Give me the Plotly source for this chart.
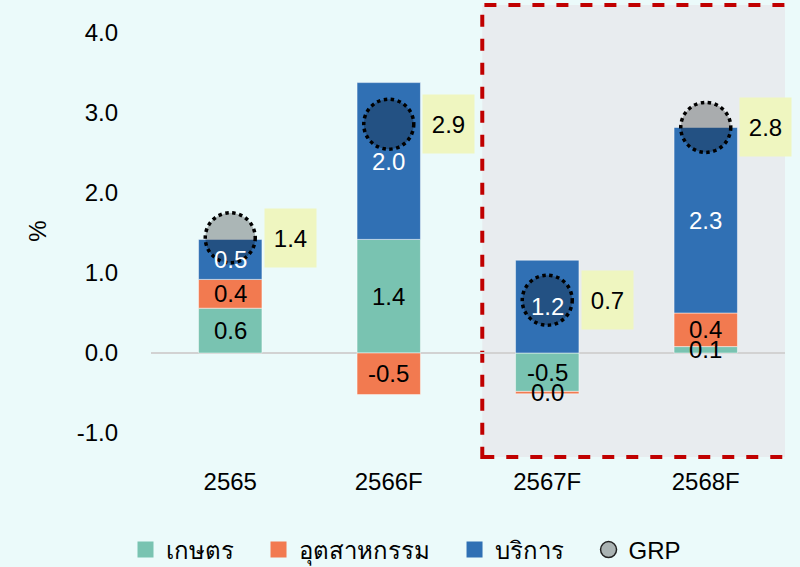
import plotly.graph_objects as go

categories = ["2565", "2566F", "2567F", "2568F"]
agri = [0.56, 1.42, -0.48, 0.08]        # เกษตร
industry = [0.36, -0.52, -0.03, 0.42]   # อุตสาหกรรม
services = [0.50, 1.96, 1.16, 2.32]     # บริการ
grp = [1.44, 2.86, 0.66, 2.82]          # GRP
series_names = ["เกษตร", "อุตสาหกรรม", "บริการ"]
y_ticks = [-1.0, 0.0, 1.0, 2.0, 3.0, 4.0]
highlight = ["2567F", "2568F"]

colors = ["#79c3b1", "#f27a50", "#3070b4"]
label_colors = ["black", "black", "white"]
FONT = "'Liberation Sans', Arial, sans-serif"
BG = "#ebfafa"
PAD = "\u00a0" * 3

def fmt(v):
    s = f"{v:.1f}"
    return "0.0" if s == "-0.0" else s

xs = list(range(len(categories)))

fig = go.Figure()
series = [agri, industry, services]
for name, vals, col in zip(series_names, series, colors):
    fig.add_trace(go.Bar(x=xs, y=vals, name=name, marker_color=col, showlegend=False,
                         marker_line=dict(color="rgba(255,255,255,0.6)", width=0.8),
                         width=0.4, hoverinfo="skip"))

# segment labels at centres of stacked segments (relative stacking)
for i in xs:
    pos, neg = 0.0, 0.0
    for vals, lc in zip(series, label_colors):
        v = vals[i]
        if v >= 0:
            c = pos + v / 2
            pos += v
        else:
            c = neg + v / 2
            neg += v
        fig.add_annotation(x=i, y=c, text=fmt(v), showarrow=False,
                           font=dict(size=24, color=lc, family=FONT))

# GRP markers
fig.add_trace(go.Scatter(x=xs, y=grp, mode="markers", name="GRP",
                         showlegend=False, hoverinfo="skip",
                         marker=dict(size=50, color="rgba(0,0,0,0.27)", line=dict(width=0))))

# legend entries
for name, col in zip(series_names, colors):
    fig.add_trace(go.Scatter(x=[None], y=[None], mode="markers", name=name + PAD,
                             marker=dict(symbol="square", size=16, color=col)))
fig.add_trace(go.Scatter(x=[None], y=[None], mode="markers", name="GRP",
                         marker=dict(size=16, color="#aab3b3",
                                     line=dict(width=1.5, color="#222"))))

for i, g in zip(xs, grp):
    fig.add_shape(type="circle", xref="x", yref="y", xsizemode="pixel", ysizemode="pixel",
                  xanchor=i, yanchor=g, x0=-25, x1=25, y0=-25, y1=25,
                  line=dict(color="black", width=3.5, dash="dot"), layer="above")
    fig.add_annotation(x=i, y=g, xshift=60, text=fmt(g), showarrow=False,
                       bgcolor="#eff6c0", width=47, height=54, borderpad=2,
                       font=dict(size=24, color="black", family=FONT))

# highlighted forecast region
i0 = categories.index(highlight[0])
i1 = categories.index(highlight[-1])
fig.add_shape(type="rect", xref="x", yref="paper", x0=i0 - 0.41, x1=i1 + 0.54,
              y0=0, y1=1, fillcolor="#e8ecef", line=dict(color="#c00000", width=4, dash="dash"),
              layer="below")

fig.update_layout(
    barmode="relative",
    width=800, height=567,
    paper_bgcolor=BG, plot_bgcolor=BG,
    margin=dict(l=151, r=15, t=5, b=110, autoexpand=False),
    font=dict(family=FONT, size=24, color="black"),
    showlegend=True,
    legend=dict(orientation="h", xref="container", yref="container",
                x=0.5075, xanchor="center", y=0.03, yanchor="middle",
                font=dict(size=24), bgcolor="rgba(0,0,0,0)", traceorder="normal",
                itemwidth=30),
    xaxis=dict(range=[-0.5, len(categories) - 0.5], tickvals=xs, ticktext=categories,
               showgrid=False, showline=False, zeroline=False, ticks="",
               ticklabelstandoff=8, tickfont=dict(size=24)),
    yaxis=dict(range=[-1.3, 4.35], tickvals=y_ticks, ticktext=[fmt(t) for t in y_ticks],
               showgrid=False, zeroline=True, zerolinecolor="#d2d2d2", zerolinewidth=2,
               ticks="", ticklabelstandoff=32, tickfont=dict(size=24),
               title=dict(text="%", font=dict(size=24), standoff=23)),
)
fig.write_html("out.html", config={"displayModeBar": False},
               post_script="document.body.style.margin='0';")
